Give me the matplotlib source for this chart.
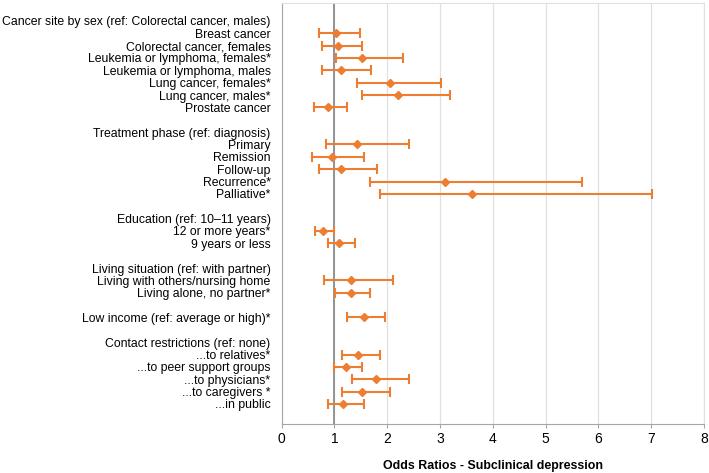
import numpy as np
import matplotlib.pyplot as plt

plt.rcParams['font.family'] = ['Liberation Sans', 'DejaVu Sans']

# row labels top to bottom ('' = blank spacer row)
labels = ['Cancer site by sex (ref: Colorectal cancer, males)',
          'Breast cancer', 'Colorectal cancer, females', 'Leukemia or lymphoma, females*',
          'Leukemia or lymphoma, males', 'Lung cancer, females*', 'Lung cancer, males*',
          'Prostate cancer', '',
          'Treatment phase (ref: diagnosis)',
          'Primary', 'Remission', 'Follow-up', 'Recurrence*', 'Palliative*', '',
          'Education (ref: 10\u201311 years)',
          '12 or more years*', '9 years or less', '',
          'Living situation (ref: with partner)',
          'Living with others/nursing home', 'Living alone, no partner*', '',
          'Low income (ref: average or high)*', '',
          'Contact restrictions (ref: none)',
          '...to relatives*', '...to peer support groups', '...to physicians*',
          '...to caregivers *', '...in public']

# odds ratios with 95% CI, None for header / blank rows
odds = [None, 1.03, 1.07, 1.52, 1.12, 2.06, 2.20, 0.87, None,
        None, 1.43, 0.95, 1.12, 3.09, 3.60, None,
        None, 0.79, 1.09, None,
        None, 1.31, 1.31, None,
        1.55, None,
        None, 1.45, 1.22, 1.79, 1.53, 1.17]
ci_lo = [None, 0.71, 0.76, 1.02, 0.76, 1.43, 1.52, 0.61, None,
         None, 0.84, 0.57, 0.71, 1.67, 1.87, None,
         None, 0.64, 0.87, None,
         None, 0.81, 1.01, None,
         1.24, None,
         None, 1.14, 0.99, 1.34, 1.14, 0.87]
ci_hi = [None, 1.48, 1.53, 2.29, 1.69, 3.01, 3.19, 1.24, None,
         None, 2.42, 1.56, 1.81, 5.69, 7.01, None,
         None, 0.99, 1.38, None,
         None, 2.11, 1.68, None,
         1.95, None,
         None, 1.86, 1.52, 2.42, 2.06, 1.56]

rows = np.arange(len(labels))
idx = [i for i in rows if odds[i] is not None]
y = np.array(idx)
est = np.array([odds[i] for i in idx])
lo = np.array([ci_lo[i] for i in idx])
hi = np.array([ci_hi[i] for i in idx])

orange = '#ED7D31'

fig = plt.figure(figsize=(7.09, 4.73), dpi=100)
ax = fig.add_axes([0.3973, 0.1036, 0.5957, 0.8901])

ax.errorbar(est, y, xerr=[est - lo, hi - est], fmt='D', color=orange,
            ecolor=orange, elinewidth=1.5, capsize=3.5, capthick=1.5,
            markersize=4.2, zorder=3)

ax.axvline(1, color='#8C8C8C', lw=1.3, zorder=2)

ax.set_xlim(0, 8)
ax.set_ylim(len(labels) - 1 + 1.62, -1.45)
ax.set_xticks(range(0, 9))
ax.grid(axis='x', color='#E0E0E0', lw=0.9, zorder=0)
ax.set_axisbelow(True)

ax.set_yticks(rows)
ax.set_yticklabels(labels, fontsize=8.85)
ax.tick_params(axis='y', length=0, pad=8)
ax.tick_params(axis='x', length=3, color='#A6A6A6', labelsize=10, pad=2.5)

for s in ['left', 'bottom']:
    ax.spines[s].set_color('#A6A6A6')
for s in ['top', 'right']:
    ax.spines[s].set_color('#E0E0E0')

ax.set_xlabel('Odds Ratios - Subclinical depression', fontsize=8.9,
              fontweight='bold', labelpad=10)

fig.savefig('out.png', dpi=100)
